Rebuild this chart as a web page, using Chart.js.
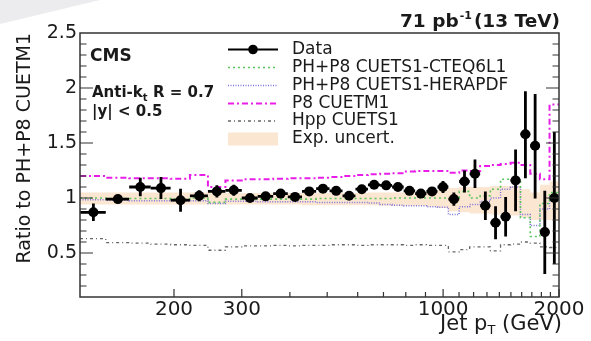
<!DOCTYPE html>
<html>
<head>
<meta charset="utf-8">
<script src="https://cdn.jsdelivr.net/npm/chart.js@4.4.1/dist/chart.umd.min.js"></script>
<style>
  html, body { margin: 0; padding: 0; background: #fff; }
  #wrap { position: relative; width: 591px; height: 341px; }
  #corner { position: absolute; left: 0; top: 0; width: 100px; height: 24px; background: #ececef;
            clip-path: polygon(0 0, 100% 0, 0 100%); }
  canvas { position: absolute; left: 0; top: 0; }
</style>
</head>
<body>
<div id="wrap"><div id="corner"></div><canvas id="c" width="591" height="341"></canvas></div>
<script>
// jet pT bin edges (GeV)
const binEdges = [114, 133, 153, 174, 196, 220, 245, 272, 300, 330, 362, 395, 430, 468, 507, 548, 592, 638,
                  686, 737, 790, 846, 905, 967, 1032, 1101, 1172, 1248, 1327, 1410, 1497, 1588, 1684, 1784, 1890, 2000];

// data / PH+P8 CUETM1
const dataRatio   = [0.87, 0.99, 1.10, 1.09, 0.98, 1.02, 1.06, 1.07, 1.00, 1.015, 1.04, 1.01, 1.06, 1.085, 1.065, 1.02, 1.08, 1.12,
                     1.115, 1.10, 1.065, 1.04, 1.06, 1.10, 0.99, 1.15, 1.22, 0.93, 0.775, 0.83, 1.16, 1.58, 1.475, 0.69, 1.00];
const dataErrUp   = [0.08, 0.035, 0.085, 0.10, 0.105, 0.05, 0.055, 0.05, 0.02, 0.02, 0.02, 0.02, 0.02, 0.02, 0.02, 0.02, 0.02, 0.02,
                     0.02, 0.02, 0.025, 0.025, 0.03, 0.055, 0.06, 0.10, 0.13, 0.13, 0.15, 0.18, 0.28, 0.39, 0.47, 0.375, 0.60];
const dataErrDown = [0.08, 0.035, 0.085, 0.10, 0.105, 0.05, 0.055, 0.05, 0.02, 0.02, 0.02, 0.02, 0.02, 0.02, 0.02, 0.02, 0.02, 0.02,
                     0.02, 0.02, 0.025, 0.025, 0.03, 0.055, 0.06, 0.10, 0.13, 0.13, 0.15, 0.18, 0.28, 0.40, 0.48, 0.38, 0.60];

// MC predictions / PH+P8 CUETM1
const cteqRatio = [1.00, 0.995, 0.995, 0.995, 0.99, 1.00, 0.96, 0.99, 0.99, 0.99, 0.99, 0.99, 0.99, 0.995, 0.995, 0.995, 0.995, 0.995,
                   0.995, 1.00, 1.00, 1.00, 1.00, 1.00, 1.00, 1.06, 1.00, 1.02, 1.08, 1.17, 1.16, 0.82, 0.65, 0.95, 1.05];
const heraRatio = [0.985, 0.98, 0.975, 0.975, 0.97, 0.975, 0.95, 0.97, 0.97, 0.965, 0.965, 0.965, 0.965, 0.96, 0.96, 0.96, 0.96, 0.955,
                   0.94, 0.935, 0.93, 0.93, 0.92, 0.915, 0.85, 0.92, 0.94, 0.97, 1.00, 1.08, 1.10, 0.85, 0.75, 0.90, 1.00];
const p8Ratio   = [1.20, 1.185, 1.18, 1.18, 1.175, 1.21, 1.10, 1.16, 1.17, 1.17, 1.175, 1.18, 1.18, 1.185, 1.19, 1.20, 1.21, 1.215,
                   1.22, 1.225, 1.24, 1.245, 1.245, 1.245, 1.23, 1.25, 1.245, 1.29, 1.30, 1.31, 1.32, 1.30, 1.22, 1.17, 1.85];
const hppRatio  = [0.63, 0.595, 0.59, 0.58, 0.575, 0.57, 0.525, 0.555, 0.565, 0.565, 0.57, 0.565, 0.57, 0.57, 0.575, 0.575, 0.57, 0.575,
                   0.575, 0.575, 0.57, 0.575, 0.57, 0.57, 0.51, 0.53, 0.555, 0.555, 0.52, 0.575, 0.58, 0.60, 0.59, 0.555, 0.55];

// experimental uncertainty band
const bandLow  = [0.94, 0.94, 0.94, 0.94, 0.94, 0.94, 0.94, 0.94, 0.94, 0.94, 0.94, 0.94, 0.935, 0.935, 0.935, 0.935, 0.935, 0.935,
                  0.93, 0.93, 0.93, 0.93, 0.92, 0.91, 0.88, 0.87, 0.86, 0.86, 0.85, 0.85, 0.84, 0.82, 0.80, 0.80, 0.80];
const bandHigh = [1.05, 1.05, 1.05, 1.05, 1.05, 1.05, 1.05, 1.045, 1.045, 1.045, 1.045, 1.045, 1.045, 1.045, 1.045, 1.045, 1.045, 1.05,
                  1.05, 1.05, 1.05, 1.055, 1.06, 1.07, 1.09, 1.10, 1.10, 1.10, 1.11, 1.11, 1.11, 1.08, 1.05, 1.12, 1.15];

const xLabels     = [200, 300, 1000, 2000];
const xMinorTicks = [400, 500, 600, 700, 800, 900, 1100, 1200, 1300, 1400, 1500, 1600, 1700, 1800, 1900];
const yLabels     = [0.5, 1, 1.5, 2, 2.5];

const legendLabels = ['Data', 'PH+P8 CUETS1-CTEQ6L1', 'PH+P8 CUETS1-HERAPDF', 'P8 CUETM1', 'Hpp CUETS1', 'Exp. uncert.'];

const FONT = "'DejaVu Sans', sans-serif";

function steps(vals) {
  const pts = vals.map((v, i) => ({ x: binEdges[i], y: v }));
  pts.push({ x: binEdges[binEdges.length - 1], y: vals[vals.length - 1] });
  return pts;
}

const centers = dataRatio.map((v, i) => (binEdges[i] + binEdges[i + 1]) / 2);

const mcLine = (label, vals, color, width, dash) => ({
  label, data: steps(vals), stepped: true, borderColor: color, borderWidth: width, borderDash: dash,
  pointRadius: 0, fill: false, order: 2
});

const decor = {
  id: 'decor',
  afterDatasetsDraw(chart) {
    const { ctx, chartArea: a, scales: { x, y } } = chart;
    ctx.save();
    ctx.beginPath(); ctx.rect(a.left, a.top, a.width, a.height); ctx.clip();
    ctx.strokeStyle = '#000';
    ctx.lineWidth = 2.8;
    dataRatio.forEach((v, i) => {
      const px = x.getPixelForValue(centers[i]);
      const py = y.getPixelForValue(v);
      ctx.beginPath();
      ctx.moveTo(x.getPixelForValue(binEdges[i]), py);
      ctx.lineTo(x.getPixelForValue(binEdges[i + 1]), py);
      ctx.moveTo(px, y.getPixelForValue(v - dataErrDown[i]));
      ctx.lineTo(px, y.getPixelForValue(v + dataErrUp[i]));
      ctx.stroke();
    });
    ctx.restore();
  },
  afterDraw(chart) {
    const { ctx, chartArea: a, scales: { x, y } } = chart;
    const ds = chart.data.datasets;
    ctx.save();

    // frame
    ctx.strokeStyle = '#333';
    ctx.lineWidth = 1.5;
    ctx.strokeRect(a.left, a.top, a.right - a.left, a.bottom - a.top);

    // x ticks (inside)
    ctx.lineWidth = 1.2;
    ctx.beginPath();
    xLabels.forEach(v => { const p = x.getPixelForValue(v); ctx.moveTo(p, a.bottom); ctx.lineTo(p, a.bottom - 8); });
    xMinorTicks.forEach(v => { const p = x.getPixelForValue(v); ctx.moveTo(p, a.bottom); ctx.lineTo(p, a.bottom - 5); });
    // y ticks, left and right
    for (let k = 2; k <= 24; k++) {
      const p = y.getPixelForValue(k / 10);
      const len = k % 5 === 0 ? 13 : 6.5;
      ctx.moveTo(a.left, p); ctx.lineTo(a.left + len, p);
      ctx.moveTo(a.right, p); ctx.lineTo(a.right - len, p);
    }
    ctx.stroke();

    ctx.fillStyle = '#1a1a1a';
    ctx.textBaseline = 'alphabetic';

    // top right
    const t1 = '71 pb', t3 = '(13 TeV)';
    ctx.font = 'bold 18.5px ' + FONT;
    const w1 = ctx.measureText(t1).width, w3 = ctx.measureText(t3).width;
    ctx.font = 'bold 11px ' + FONT;
    const w2 = ctx.measureText('-1').width + 3;
    const sx = 560 - (w1 + w2 + w3);
    ctx.font = 'bold 18.5px ' + FONT;
    ctx.fillText(t1, sx, 27);
    ctx.font = 'bold 11px ' + FONT;
    ctx.fillText('-1', sx + w1 + 1, 19);
    ctx.font = 'bold 18.5px ' + FONT;
    ctx.fillText(t3, sx + w1 + w2, 27);

    // CMS and selection
    ctx.font = 'bold 17px ' + FONT;
    ctx.fillText('CMS', 90, 61);
    ctx.font = 'bold 15px ' + FONT;
    ctx.fillText('Anti-k', 92, 97);
    const wa = ctx.measureText('Anti-k').width;
    ctx.font = 'bold 10px ' + FONT;
    ctx.fillText('t', 92 + wa, 101);
    ctx.font = 'bold 15px ' + FONT;
    ctx.fillText(' R = 0.7', 92 + wa + 5, 97);
    ctx.fillText('|y| < 0.5', 92, 116);

    // axis titles
    ctx.font = '21px ' + FONT;
    const xt1 = 'Jet p', xt3 = ' (GeV)';
    const xw1 = ctx.measureText(xt1).width, xw3 = ctx.measureText(xt3).width;
    ctx.font = '13px ' + FONT;
    const xw2 = ctx.measureText('T').width;
    const xs = 562 - (xw1 + xw2 + xw3);
    ctx.font = '21px ' + FONT;
    ctx.fillText(xt1, xs, 330);
    ctx.font = '13px ' + FONT;
    ctx.fillText('T', xs + xw1, 334);
    ctx.font = '21px ' + FONT;
    ctx.fillText(xt3, xs + xw1 + xw2, 330);

    ctx.save();
    ctx.translate(30, 33);
    ctx.rotate(-Math.PI / 2);
    ctx.textAlign = 'right';
    ctx.font = '19px ' + FONT;
    ctx.fillText('Ratio to PH+P8 CUETM1', 0, 0);
    ctx.restore();

    // legend
    const rows = [49.5, 67.5, 85.5, 103.5, 121, 139];
    const x0 = 228, x1 = 278;
    ctx.font = '17px ' + FONT;
    ctx.textBaseline = 'middle';
    legendLabels.forEach((lab, i) => {
      const ry = rows[i];
      ctx.fillStyle = '#1a1a1a';
      ctx.fillText(lab, 292, ry);
      if (i === 0) {
        ctx.strokeStyle = '#000'; ctx.lineWidth = 2; ctx.setLineDash([]);
        ctx.beginPath(); ctx.moveTo(x0, ry); ctx.lineTo(x1, ry); ctx.stroke();
        ctx.fillStyle = '#000';
        ctx.beginPath(); ctx.arc((x0 + x1) / 2, ry, 4.8, 0, Math.PI * 2); ctx.fill();
      } else if (i === 5) {
        ctx.fillStyle = ds[6].backgroundColor;
        ctx.fillRect(x0, ry - 6.5, x1 - x0, 13);
      } else {
        const d = ds[i];
        ctx.strokeStyle = d.borderColor; ctx.lineWidth = d.borderWidth; ctx.setLineDash(d.borderDash);
        ctx.beginPath(); ctx.moveTo(x0, ry); ctx.lineTo(x1, ry); ctx.stroke();
      }
    });
    ctx.setLineDash([]);
    ctx.restore();
  }
};

new Chart(document.getElementById('c'), {
  type: 'line',
  data: {
    datasets: [
      { label: 'Data', data: centers.map((c, i) => ({ x: c, y: dataRatio[i] })), showLine: false,
        pointRadius: 5, pointBackgroundColor: '#000', pointBorderWidth: 0, order: 0 },
      mcLine('PH+P8 CUETS1-CTEQ6L1', cteqRatio, '#5cc45c', 1.6, [2, 3]),
      mcLine('PH+P8 CUETS1-HERAPDF', heraRatio, '#7c74dc', 1.5, [1, 1.5]),
      mcLine('P8 CUETM1', p8Ratio, '#e81ee8', 2, [6, 3, 2, 3]),
      mcLine('Hpp CUETS1', hppRatio, '#666', 1.3, [3, 3, 1, 3]),
      { label: 'bandLow', data: steps(bandLow), stepped: true, borderWidth: 0, borderColor: 'rgba(0,0,0,0)',
        pointRadius: 0, fill: false, order: 10 },
      { label: 'Exp. uncert.', data: steps(bandHigh), stepped: true, borderWidth: 0, borderColor: 'rgba(0,0,0,0)',
        pointRadius: 0, fill: '-1', backgroundColor: 'rgba(250,220,190,0.7)', order: 9 }
    ]
  },
  options: {
    responsive: false,
    devicePixelRatio: 1,
    animation: false,
    events: [],
    layout: { padding: { left: 0, right: 32, top: 33, bottom: 0 } },
    plugins: { legend: { display: false }, tooltip: { enabled: false } },
    scales: {
      x: {
        type: 'logarithmic', min: 114, max: 2000,
        grid: { display: false, drawTicks: false },
        border: { display: false },
        ticks: { font: { family: FONT, size: 20 }, color: '#1a1a1a', padding: 1, autoSkip: false, maxRotation: 0,
                 callback: v => String(v) },
        afterBuildTicks: s => { s.ticks = xLabels.map(v => ({ value: v })); },
        afterFit: s => { s.height = 44; }
      },
      y: {
        min: 0.1, max: 2.5,
        grid: { display: false, drawTicks: false },
        border: { display: false },
        ticks: { font: { family: FONT, size: 19 }, color: '#1a1a1a', padding: 3, callback: v => String(v) },
        afterBuildTicks: s => { s.ticks = yLabels.map(v => ({ value: v })); },
        afterFit: s => { s.width = 80; }
      }
    }
  },
  plugins: [decor]
});
</script>
</body>
</html>
